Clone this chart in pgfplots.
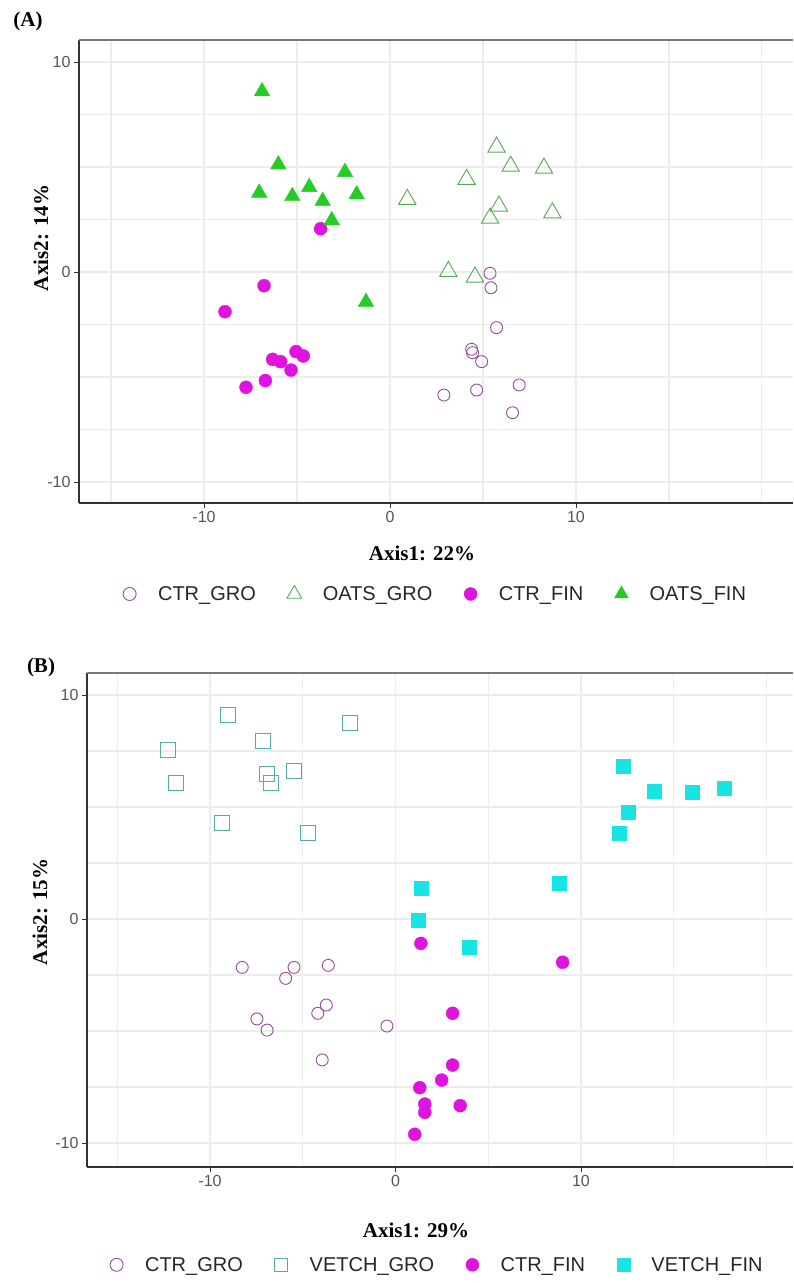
\documentclass[border=0pt]{standalone}
\usepackage{fontspec}
\setmainfont{Liberation Sans}
\newfontfamily\titlefont{Liberation Serif}
\usepackage{pgfplots}
\pgfplotsset{compat=1.18}

\definecolor{ctrgro}{RGB}{150,75,150}
\definecolor{oatsgro}{RGB}{85,170,85}
\definecolor{ctrfin}{RGB}{222,20,222}
\definecolor{oatsfin}{RGB}{35,205,35}
\definecolor{vetchgro}{RGB}{85,170,170}
\definecolor{vetchfin}{RGB}{25,228,228}
\definecolor{gridgray}{RGB}{236,236,236}
\definecolor{axisdark}{RGB}{50,50,50}
\definecolor{topgray}{RGB}{120,120,120}
\definecolor{labelgray}{RGB}{85,85,85}

\pgfplotsset{
  pcoa/.style={
    scale only axis,
    axis x line*=bottom,
    axis y line*=left,
    xtick={-10,0,10},
    ytick={-10,0,10},
    minor xtick={-15,-5,5,15,20},
    minor ytick={-7.5,-5,-2.5,2.5,5,7.5},
    grid=both,
    major grid style={draw=gridgray, line width=1.1pt},
    minor grid style={draw=gridgray, line width=1.1pt},
    major tick length=5pt,
    minor tick length=0pt,
    tick align=outside,
    tick style={draw=axisdark, line width=0.8pt},
    axis line style={draw=axisdark, line width=1.3pt},
    ticklabel style={font=\fontsize{16}{18}\selectfont, text=labelgray},
    /pgf/number format/assume math mode=true,
    legend columns=4,
    % fixed-width legend key: invisible extent plus a single mark
    legend image code/.code={\path (-8pt,-8pt) (8pt,8pt); \draw[##1] plot coordinates {(0pt,0pt)};},
    legend style={draw=none, fill=none, inner sep=0pt, anchor=west,
      font=\fontsize{20}{24}\selectfont, text=black!85,
      nodes={inner sep=0pt},
      /tikz/every odd column/.style={column sep=20pt},
      /tikz/every even column/.style={column sep=30pt}},
    after end axis/.code={\draw[topgray, line width=1.3pt] (rel axis cs:0,1) -- (rel axis cs:1,1);},
  },
}

\begin{document}
\begin{tikzpicture}[x=1pt,y=1pt]
\useasboundingbox (0,0) rectangle (793,1283);

% ---------------- Panel A: control vs oats ----------------
\begin{axis}[pcoa, at={(79pt,780pt)}, anchor=south west,
  width=714pt, height=463pt,
  xmin=-16.72, xmax=21.67, ymin=-11.0, ymax=11.05,
  legend style={at={(0.0588,-0.1965)}}]
\addplot[only marks, forget plot, mark=o, mark size=6pt, ctrgro, line width=0.9pt] coordinates {
  (5.38,-0.06) (5.43,-0.75) (5.73,-2.65) (4.39,-3.68) (4.44,-3.84)
  (4.93,-4.27) (6.95,-5.38) (4.66,-5.62) (2.90,-5.86) (6.59,-6.70)};
\addplot[only marks, forget plot, mark=triangle, mark size=10pt, oatsgro, line width=0.9pt] coordinates {
  (5.73,5.95) (6.49,5.04) (8.28,4.95) (4.12,4.41) (0.93,3.46)
  (5.86,3.14) (5.38,2.57) (8.73,2.82) (3.14,0.03) (4.57,-0.24)};
\addplot[only marks, forget plot, mark=*, mark size=6.5pt, ctrfin] coordinates {
  (-3.73,2.06) (-6.77,-0.65) (-8.87,-1.89) (-6.31,-4.16) (-5.88,-4.27)
  (-5.05,-3.79) (-4.66,-4.00) (-5.32,-4.67) (-6.70,-5.17) (-7.74,-5.49)};
\addplot[only marks, forget plot, mark=triangle*, mark size=9pt, oatsfin] coordinates {
  (-6.88,8.60) (-6.00,5.12) (-7.03,3.77) (-5.25,3.61) (-4.34,4.04)
  (-3.62,3.38) (-2.42,4.76) (-1.79,3.69) (-3.13,2.46) (-1.29,-1.43)};
\addlegendimage{mark=o, mark size=6.5pt, ctrgro, line width=0.9pt}
\addlegendentry{CTR\_GRO}
\addlegendimage{mark=triangle, mark size=8.5pt, oatsgro, line width=0.9pt}
\addlegendentry{OATS\_GRO}
\addlegendimage{mark=*, mark size=6.5pt, ctrfin}
\addlegendentry{CTR\_FIN}
\addlegendimage{mark=triangle*, mark size=8pt, oatsfin}
\addlegendentry{OATS\_FIN}
\end{axis}

% ---------------- Panel B: control vs vetch ----------------
\begin{axis}[pcoa, at={(87pt,116pt)}, anchor=south west,
  width=706pt, height=494pt,
  xmin=-16.63, xmax=21.43, ymin=-11.07, ymax=10.98,
  legend style={at={(0.0297,-0.198)}}]
\addplot[only marks, forget plot, mark=o, mark size=6pt, ctrgro, line width=0.9pt] coordinates {
  (-8.26,-2.16) (-5.47,-2.16) (-5.92,-2.65) (-3.62,-2.07) (-3.73,-3.84)
  (-4.19,-4.21) (-7.47,-4.46) (-6.92,-4.96) (-0.46,-4.78) (-3.95,-6.29)};
\addplot[only marks, forget plot, mark=square, mark size=7.5pt, vetchgro, line width=0.9pt] coordinates {
  (-9.01,9.11) (-2.45,8.74) (-12.28,7.54) (-7.13,7.96) (-6.94,6.47)
  (-5.47,6.62) (-11.83,6.06) (-6.73,6.06) (-9.37,4.30) (-4.70,3.85)};
\addplot[only marks, forget plot, mark=*, mark size=6.5pt, ctrfin] coordinates {
  (1.37,-1.09) (9.01,-1.93) (3.08,-4.21) (3.08,-6.52) (2.49,-7.19)
  (1.31,-7.53) (1.58,-8.26) (1.58,-8.63) (3.49,-8.33) (1.04,-9.61)};
\addplot[only marks, forget plot, mark=square*, mark size=7pt, vetchfin] coordinates {
  (1.41,1.37) (1.23,-0.07) (3.98,-1.28) (8.83,1.59) (12.25,6.80)
  (13.95,5.71) (15.97,5.68) (17.73,5.86) (12.52,4.76) (12.07,3.85)};
\addlegendimage{mark=o, mark size=6.5pt, ctrgro, line width=0.9pt}
\addlegendentry{CTR\_GRO}
\addlegendimage{mark=square, mark size=6.5pt, vetchgro, line width=0.9pt}
\addlegendentry{VETCH\_GRO}
\addlegendimage{mark=*, mark size=6.5pt, ctrfin}
\addlegendentry{CTR\_FIN}
\addlegendimage{mark=square*, mark size=6.5pt, vetchfin}
\addlegendentry{VETCH\_FIN}
\end{axis}

% panel tags and axis titles
\begin{scope}[every node/.style={font=\titlefont\bfseries\fontsize{21}{24}\selectfont, inner sep=0pt}]
\node at (28,1262) {(A)};
\node at (422,730) {Axis1: 22\%};
\node[rotate=90] at (41,1045) {Axis2: 14\%};
\node at (41,616) {(B)};
\node at (416,53) {Axis1: 29\%};
\node[rotate=90] at (40,371) {Axis2: 15\%};
\end{scope}
\end{tikzpicture}
\end{document}
